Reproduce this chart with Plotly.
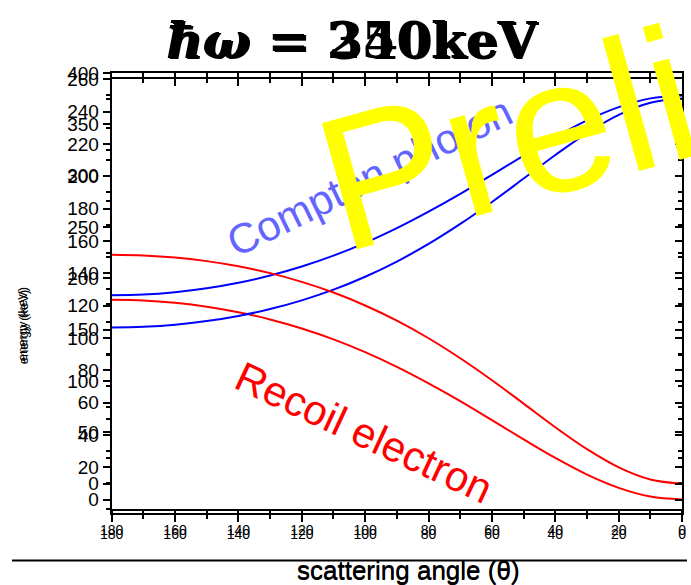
import plotly.graph_objects as go

W, H = 691, 585

# scattering angle samples (degrees)
theta = [180, 170, 160, 150, 140, 130, 120, 110, 100, 90, 80, 70, 60, 50, 40, 30, 20, 10, 0]

# 250 keV panel: scattered photon and recoil electron energies (keV)
photon_250 = [126.4, 126.8, 128.3, 130.7, 134.1, 138.6, 144.2, 150.9, 158.8, 167.9,
              178.1, 189.1, 200.9, 212.8, 224.3, 234.6, 242.8, 248.2, 250.0]
electron_250 = [123.6, 123.2, 121.7, 119.3, 115.9, 111.4, 105.8, 99.1, 91.2, 82.1,
                71.9, 60.9, 49.1, 37.2, 25.7, 15.4, 7.2, 1.8, 0.0]

# 340 keV panel: scattered photon and recoil electron energies (keV)
photon_340 = [152.0, 152.7, 154.7, 158.3, 163.3, 170.0, 178.5, 188.9, 201.5, 216.3,
              233.4, 252.9, 274.3, 297.1, 320.1, 341.4, 359.1, 370.9, 375.0]
electron_340 = [223.0, 222.3, 220.3, 216.7, 211.7, 205.0, 196.5, 186.1, 173.5, 158.7,
                141.6, 122.1, 100.7, 77.9, 54.9, 33.6, 15.9, 4.1, 0.0]

titles = ["<b><i>ħω</i> = 250keV</b>", "<b><i>ħω</i> = 340keV</b>"]
x_ticks = [180, 160, 140, 120, 100, 80, 60, 40, 20, 0]


def px(x):
    return x / W


def py(y):
    return 1 - y / H


fig = go.Figure()

line_kw = dict(mode="lines", line_shape="spline", showlegend=False, hoverinfo="skip")
fig.add_trace(go.Scatter(x=theta, y=photon_250, line=dict(color="#0000ff", width=2),
                         xaxis="x", yaxis="y", **line_kw))
fig.add_trace(go.Scatter(x=theta, y=electron_250, line=dict(color="#ff0000", width=2),
                         xaxis="x", yaxis="y", **line_kw))
fig.add_trace(go.Scatter(x=theta, y=photon_340, line=dict(color="#0000ff", width=2),
                         xaxis="x2", yaxis="y2", **line_kw))
fig.add_trace(go.Scatter(x=theta, y=electron_340, line=dict(color="#ff0000", width=2),
                         xaxis="x2", yaxis="y2", **line_kw))
# empty traces so the mirrored (top / right) frame axes get drawn
fig.add_trace(go.Scatter(x=[None], y=[None], xaxis="x3", yaxis="y3", showlegend=False))
fig.add_trace(go.Scatter(x=[None], y=[None], xaxis="x4", yaxis="y4", showlegend=False))

xtick_font = dict(family="Liberation Sans, Arial", size=14, color="black")
ytick_font = dict(family="Liberation Sans, Arial", size=19, color="black")
xdom = [px(102), px(686)]
ydom_a = [py(512), py(70.5)]
ydom_b = [py(508), py(64)]

base = dict(showgrid=False, zeroline=False, showline=True, linecolor="black",
            linewidth=2, tickcolor="black", tickwidth=1.5)


def xaxis_cfg(anchor, side, ticks, labels, overlay=None):
    d = dict(base, domain=xdom, range=[180, 0], anchor=anchor, side=side,
             tickmode="array", tickvals=x_ticks, ticks=ticks, ticklen=7,
             showticklabels=labels, tickfont=xtick_font,
             minor=dict(tickvals=list(range(10, 180, 20)), ticks=ticks, ticklen=4,
                        tickcolor="black", tickwidth=1.5))
    if overlay:
        d["overlaying"] = overlay
    return d


def yaxis_cfg(dom, rng, dt, mdt, anchor, side, ticks, labels, overlay=None):
    d = dict(base, domain=dom, range=rng, anchor=anchor, side=side, dtick=dt, tick0=0,
             ticks=ticks, ticklen=7, showticklabels=labels, tickfont=ytick_font,
             minor=dict(dtick=mdt, tick0=0, ticks=ticks, ticklen=4,
                        tickcolor="black", tickwidth=1.5))
    if overlay:
        d["overlaying"] = overlay
    return d


fig.update_layout(
    width=W, height=H,
    margin=dict(l=0, r=0, t=0, b=0),
    paper_bgcolor="white", plot_bgcolor="rgba(0,0,0,0)",
    xaxis=xaxis_cfg("y", "bottom", "outside", True),
    yaxis=yaxis_cfg(ydom_a, [-8.5, 260], 20, 10, "x", "left", "outside", True),
    xaxis2=xaxis_cfg("y2", "bottom", "outside", True),
    yaxis2=yaxis_cfg(ydom_b, [-25, 400], 50, 25, "x2", "left", "outside", True),
    xaxis3=xaxis_cfg("y", "top", "inside", False, overlay="x"),
    yaxis3=yaxis_cfg(ydom_a, [-8.5, 260], 20, 10, "x", "right", "inside", False, overlay="y"),
    xaxis4=xaxis_cfg("y2", "top", "inside", False, overlay="x2"),
    yaxis4=yaxis_cfg(ydom_b, [-25, 400], 50, 25, "x2", "right", "inside", False, overlay="y2"),
)

annotations = []
# panel titles, drawn one over the other
for i, t in enumerate(titles):
    annotations.append(dict(text=t, x=px(348 + 2 * i), y=py(31 + i), xref="paper", yref="paper",
                            showarrow=False, xanchor="center", yanchor="middle",
                            font=dict(family="DejaVu Serif", size=50, color="black")))
# axis titles
for i in range(2):
    annotations.append(dict(text="energy (keV)", x=px(11 + i), y=py(320 + 3 * i),
                            xref="paper", yref="paper", showarrow=False, textangle=-90,
                            xanchor="center", yanchor="middle",
                            font=dict(family="Liberation Sans, Arial", size=13, color="black")))
    annotations.append(dict(text="scattering angle (θ)", x=px(406), y=py(570 + i),
                            xref="paper", yref="paper", showarrow=False,
                            xanchor="center", yanchor="middle",
                            font=dict(family="Liberation Sans, Arial", size=26, color="black")))
annotations.append(dict(text="Compton photon", x=px(366), y=py(169), xref="paper", yref="paper",
                        showarrow=False, textangle=-26, xanchor="center", yanchor="middle",
                        font=dict(family="Liberation Sans, Arial", size=42, color="#6464ff")))
annotations.append(dict(text="Recoil electron", x=px(360), y=py(430), xref="paper", yref="paper",
                        showarrow=False, textangle=25, xanchor="center", yanchor="middle",
                        font=dict(family="Liberation Sans, Arial", size=42, color="#ff0000")))
annotations.append(dict(text="Preliminary", x=px(788), y=py(54), xref="paper", yref="paper",
                        showarrow=False, textangle=-15.5, xanchor="center", yanchor="middle",
                        font=dict(family="Liberation Sans, Arial", size=190, color="#ffff00")))
fig.update_layout(annotations=annotations)

fig.add_shape(type="line", xref="paper", yref="paper", x0=0, x1=1, y0=py(560), y1=py(560),
              line=dict(color="black", width=2))

fig.write_html("out.html")
